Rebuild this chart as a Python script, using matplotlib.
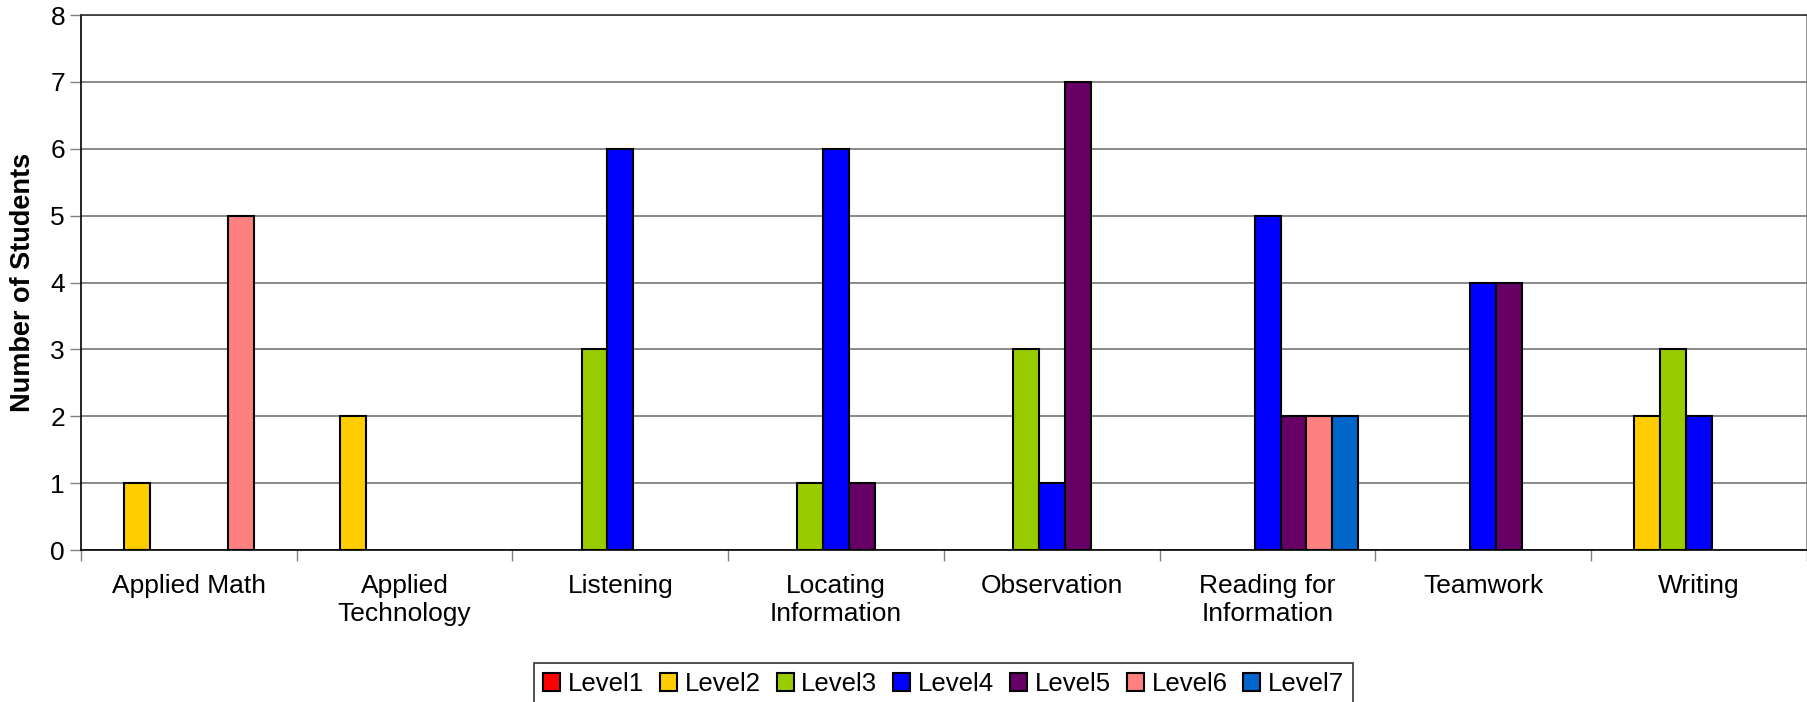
import matplotlib.pyplot as plt
import numpy as np

plt.rcParams['font.family'] = ['Liberation Sans', 'DejaVu Sans']

# Data
skills = ["Applied Math", "Applied\nTechnology", "Listening", "Locating\nInformation",
          "Observation", "Reading for\nInformation", "Teamwork", "Writing"]
levels = ["Level1", "Level2", "Level3", "Level4", "Level5", "Level6", "Level7"]
level1 = [0, 0, 0, 0, 0, 0, 0, 0]
level2 = [1, 2, 0, 0, 0, 0, 0, 2]
level3 = [0, 0, 3, 1, 3, 0, 0, 3]
level4 = [0, 0, 6, 6, 1, 5, 4, 2]
level5 = [0, 0, 0, 1, 7, 2, 4, 0]
level6 = [5, 0, 0, 0, 0, 2, 0, 0]
level7 = [0, 0, 0, 0, 0, 2, 0, 0]
series = [level1, level2, level3, level4, level5, level6, level7]
colors = ['#FF0000', '#FFCC00', '#99CC00', '#0000FF', '#660066', '#FF8080', '#0066CC']

fig = plt.figure(figsize=(18.08, 7.02), dpi=100)
ax = fig.add_axes([0.0448, 0.2165, 0.9546, 0.762])

x = np.arange(len(skills))
w = 0.12
for i, (vals, name, c) in enumerate(zip(series, levels, colors)):
    offs = (i - 3) * w
    # zero-height bars are not drawn (as in the original)
    h = np.where(np.array(vals) == 0, np.nan, vals)
    ax.bar(x + offs, h, width=w, color=c, edgecolor='black', linewidth=1.5, label=name, zorder=3)

ax.set_xlim(-0.5, len(skills) - 0.5)
ax.set_ylim(0, 8)
ax.set_yticks(range(0, 9))
ax.yaxis.grid(True, color='#808080', linewidth=1.3, zorder=0)
ax.set_axisbelow(True)

ax.set_xticks(x)
ax.set_xticklabels(skills, fontsize=19, linespacing=1.25)
ax.tick_params(axis='x', which='major', length=0, pad=17)
ax.set_xticks(np.arange(-0.5, len(skills)), minor=True)
ax.tick_params(axis='x', which='minor', length=8, width=1, color='#808080')
ax.tick_params(axis='y', labelsize=19, length=8, width=1, color='#808080')

ax.spines['top'].set_color('#333333')
ax.spines['right'].set_color('#808080')
for s in ['left', 'bottom', 'top', 'right']:
    ax.spines[s].set_linewidth(1.2)

ax.set_ylabel("Number of Students", fontsize=19.5, fontweight='bold', labelpad=10)

leg = fig.legend(loc='upper center', bbox_to_anchor=(0.522, 1 - 663 / 702), ncol=7, fontsize=18.5,
                 frameon=True, fancybox=False, edgecolor='black', handlelength=0.66,
                 handleheight=0.66, handletextpad=0.3, columnspacing=0.62, borderpad=0.35,
                 borderaxespad=0)
leg.get_frame().set_linewidth(1.2)
for p in leg.get_patches():
    p.set_linewidth(1.5)

fig.savefig("out.png", dpi=100)
